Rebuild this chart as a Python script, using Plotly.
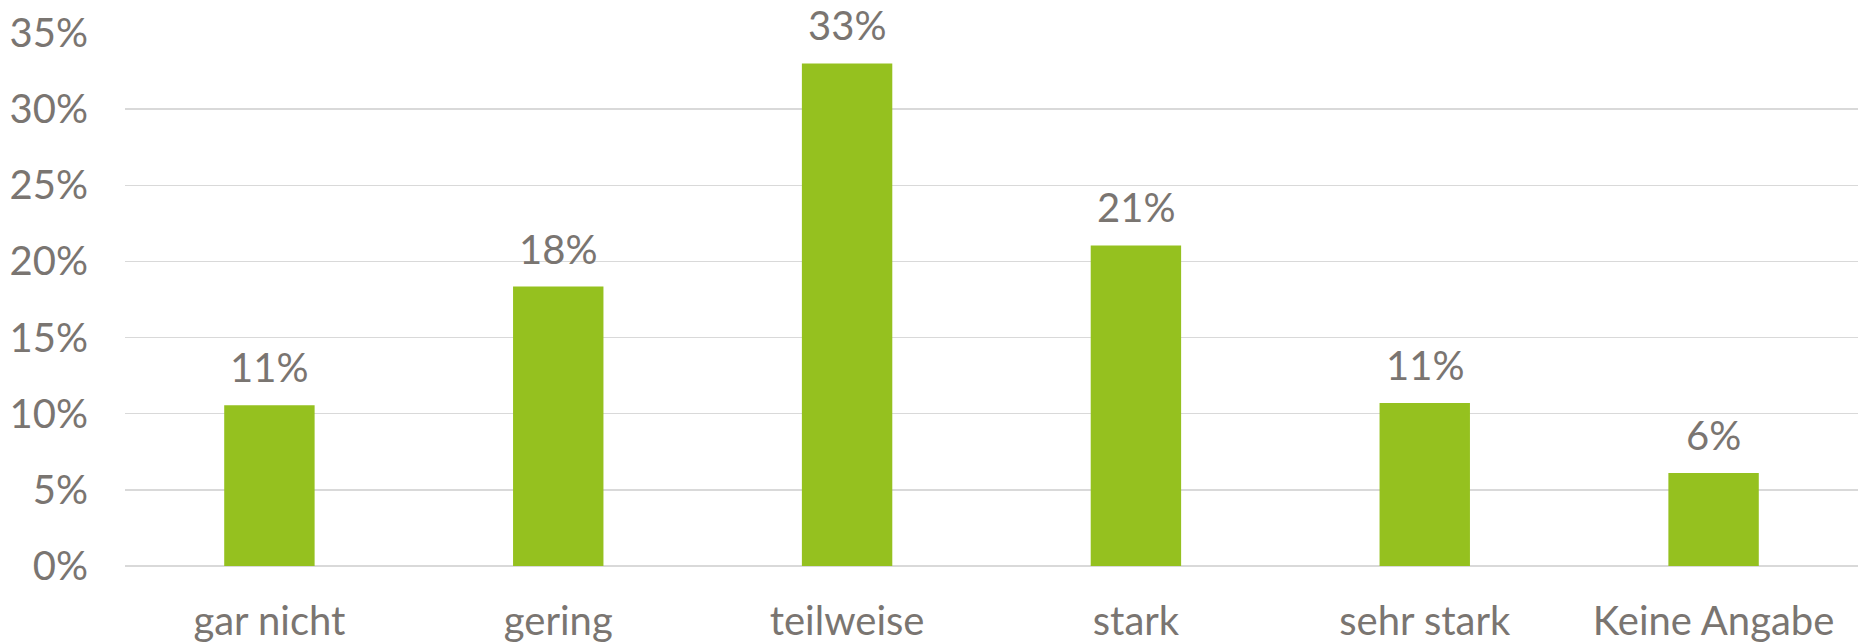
import plotly.graph_objects as go

categories = ["gar nicht", "gering", "teilweise", "stark", "sehr stark", "Keine Angabe"]
values = [10.55, 18.35, 33.0, 21.05, 10.7, 6.1]
labels = ["11%", "18%", "33%", "21%", "11%", "6%"]
y_ticks = [0, 5, 10, 15, 20, 25, 30, 35]

TEXT = "#7A7571"
GREEN = "#95C11F"
FONT = "Lato"

fig = go.Figure()
fig.add_trace(go.Bar(x=categories, y=values, marker=dict(color=GREEN, line=dict(width=0)),
                     hoverinfo="skip"))

for c, v, t in zip(categories, values, labels):
    fig.add_annotation(x=c, y=v, text=t, showarrow=False, yanchor="bottom",
                       yshift=13, borderpad=0,
                       font=dict(family=FONT, size=40, color=TEXT))

fig.update_layout(
    width=1858, height=643,
    margin=dict(l=125, r=0, t=33, b=77),
    paper_bgcolor="white", plot_bgcolor="white",
    bargap=0.687,
    showlegend=False,
    font=dict(family=FONT, size=40, color=TEXT),
)
fig.update_xaxes(showgrid=False, showline=False, zeroline=False, ticks="",
                 ticklabelstandoff=28, tickfont=dict(family=FONT, size=40, color=TEXT))
fig.update_yaxes(range=[0, 35], tickvals=y_ticks, ticktext=[f"{v}%" for v in y_ticks],
                 showgrid=True, gridcolor="#D9D9D9", gridwidth=1.5,
                 zeroline=True, zerolinecolor="#D9D9D9", zerolinewidth=1.5,
                 showline=False, ticks="", ticklabelstandoff=36,
                 tickfont=dict(family=FONT, size=40, color=TEXT))

fig.write_html(
    "out.html",
    config={"displayModeBar": False, "staticPlot": True},
    post_script="document.body.style.margin='0';document.body.style.overflow='hidden';",
)
